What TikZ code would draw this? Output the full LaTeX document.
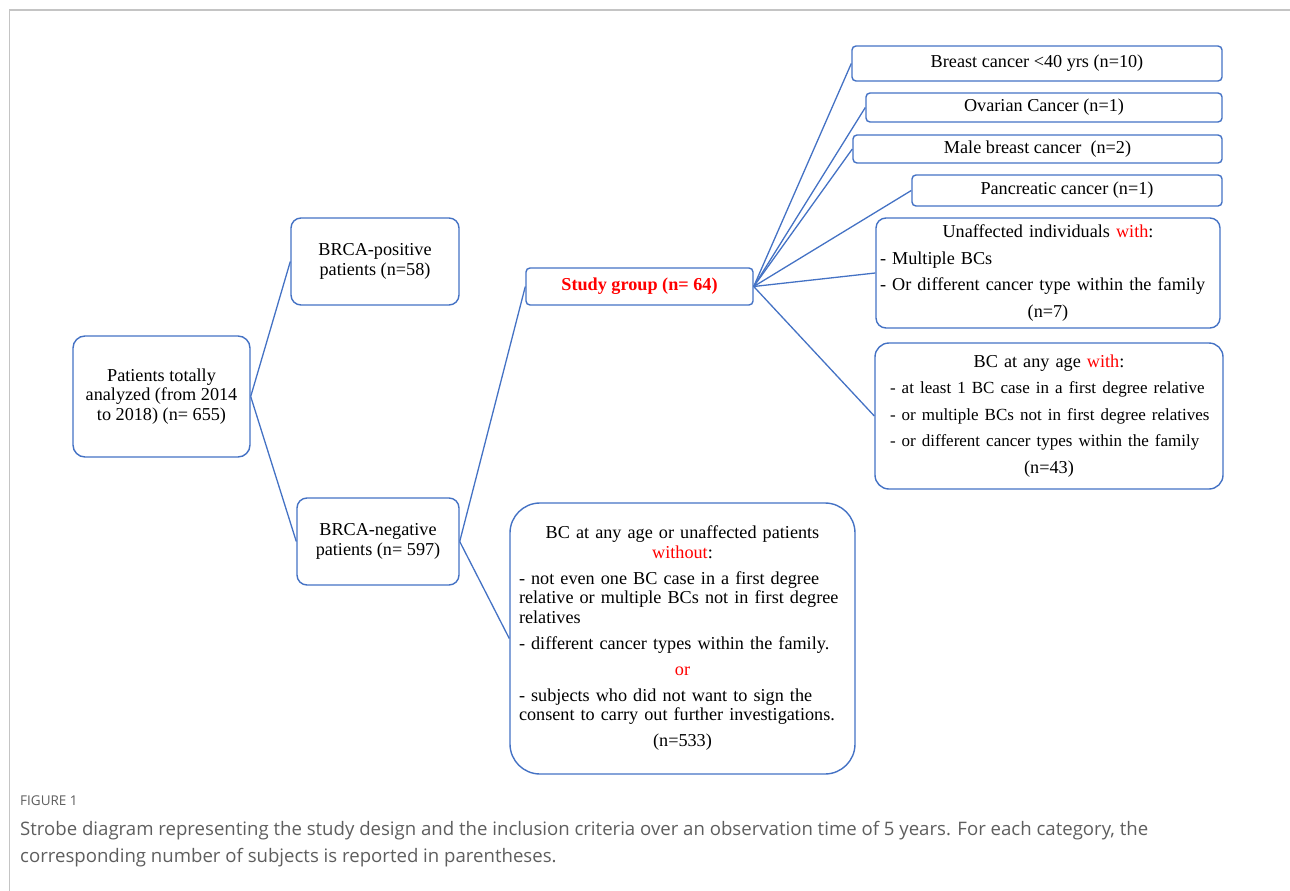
\documentclass[tikz,border=0pt]{standalone}
\usepackage{fontspec}
\setmainfont{Liberation Serif}
\newfontfamily\capfont{Open Sans}
\definecolor{linkblue}{HTML}{4472C4}
\definecolor{framegray}{HTML}{C4C4C4}
\definecolor{capgray}{HTML}{5E5E5E}
\definecolor{hlred}{HTML}{FF0000}
\newcommand{\lft}[1]{\makebox[\hsize][l]{#1}}
\newcommand{\lfts}[1]{\makebox[\hsize][l]{\fontsize{17}{26.6}\selectfont #1}}
\begin{document}
\begin{tikzpicture}[x=1pt,y=-1pt,
  box/.style={draw=linkblue, line width=1.4pt, rounded corners=#1, inner sep=0pt,
    align=center, font=\fontsize{18.2}{19.5}\selectfont},
  box/.default=10pt,
  wide/.style={font=\fontsize{18.2}{26.6}\selectfont},
  link/.style={draw=linkblue, line width=1.3pt}]
\useasboundingbox (0,0) rectangle (1290,891);

% page frame
\draw[framegray, line width=1.5pt] (9.5,891) -- (9.5,10) -- (1290,10);

% left column
\node[box=12pt, minimum width=177pt, minimum height=121pt] (pat) at (161.5,396.5)
  {Patients totally\\analyzed (from 2014\\to 2018) (n= 655)};
\node[box, minimum width=168pt, minimum height=87pt] (pos) at (375,261.5)
  {BRCA-positive\\patients (n=58)};
\node[box, minimum width=162pt, minimum height=87pt] (neg) at (378,541.5)
  {BRCA-negative\\patients (n= 597)};

% study group
\node[box=4pt, minimum width=227pt, minimum height=37pt, text=hlred,
  font=\fontsize{18.2}{19.5}\selectfont\bfseries] (study) at (639.5,286.5)
  {Study group (n= 64)};

% inclusion categories
\node[box=4pt, minimum width=370pt, minimum height=35pt] (bc40) at (1037,63.5)
  {Breast cancer <40 yrs (n=10)};
\node[box=4pt, minimum width=356pt, minimum height=29pt] (ova) at (1044,107.5)
  {Ovarian Cancer (n=1)};
\node[box=4pt, minimum width=369pt, minimum height=28pt] (male) at (1037.5,149)
  {Male breast cancer\ \ (n=2)};
\node[box=4pt, minimum width=310pt, minimum height=31pt] (panc) at (1067,190.5)
  {Pancreatic cancer (n=1)};
\node[box=10pt, wide, minimum width=344pt, minimum height=110pt, text width=336pt] (unaff) at (1048,273)
  {Unaffected individuals \textcolor{hlred}{with}:\\
   \lft{- Multiple BCs}\\
   \lft{- Or different cancer type within the family}\\
   (n=7)};
\node[box=14pt, wide, minimum width=348pt, minimum height=146pt, text width=318pt] (bcany) at (1049,416)
  {BC at any age \textcolor{hlred}{with}:\\
   \lfts{- at least 1 BC case in a first degree relative}\\
   \lfts{- or multiple BCs not in first degree relatives}\\
   \lfts{- or different cancer types within the family}\\
   (n=43)};

% excluded subjects
\node[box=30pt, minimum width=345pt, minimum height=271pt, text width=327pt] (excl) at (682.5,638.5)
  {BC at any age or unaffected patients\\
   \textcolor{hlred}{without}:\\[6.5pt]
   \lft{- not even one BC case in a first degree}\\
   \lft{relative or multiple BCs not in first degree}\\
   \lft{relatives}\\[6.5pt]
   \lft{- different cancer types within the family.}\\[6.5pt]
   \textcolor{hlred}{or}\\[6.5pt]
   \lft{- subjects who did not want to sign the}\\
   \lft{consent to carry out further investigations.}\\[6.5pt]
   (n=533)};

% connectors
\draw[link] (pat.east) -- (pos.west);
\draw[link] (pat.east) -- (neg.west);
\draw[link] (neg.east) -- (study.west);
\draw[link] (neg.east) -- (excl.west);
\foreach \t in {bc40,ova,male,panc,unaff,bcany}
  \draw[link] (study.east) -- (\t.west);

% caption
\node[anchor=base west, inner sep=0pt, text=capgray, font=\capfont\fontsize{13.5}{15}\selectfont] (figlab) at (20,805)
  {FIGURE 1};
\node[anchor=base west, inner sep=0pt, text=capgray, align=left,
  font=\capfont\fontsize{18.6}{27}\selectfont] (caption) at (20,862)
  {Strobe diagram representing the study design and the inclusion criteria over an observation time of 5 years. For each category, the\\
   corresponding number of subjects is reported in parentheses.};
\end{tikzpicture}
\end{document}
